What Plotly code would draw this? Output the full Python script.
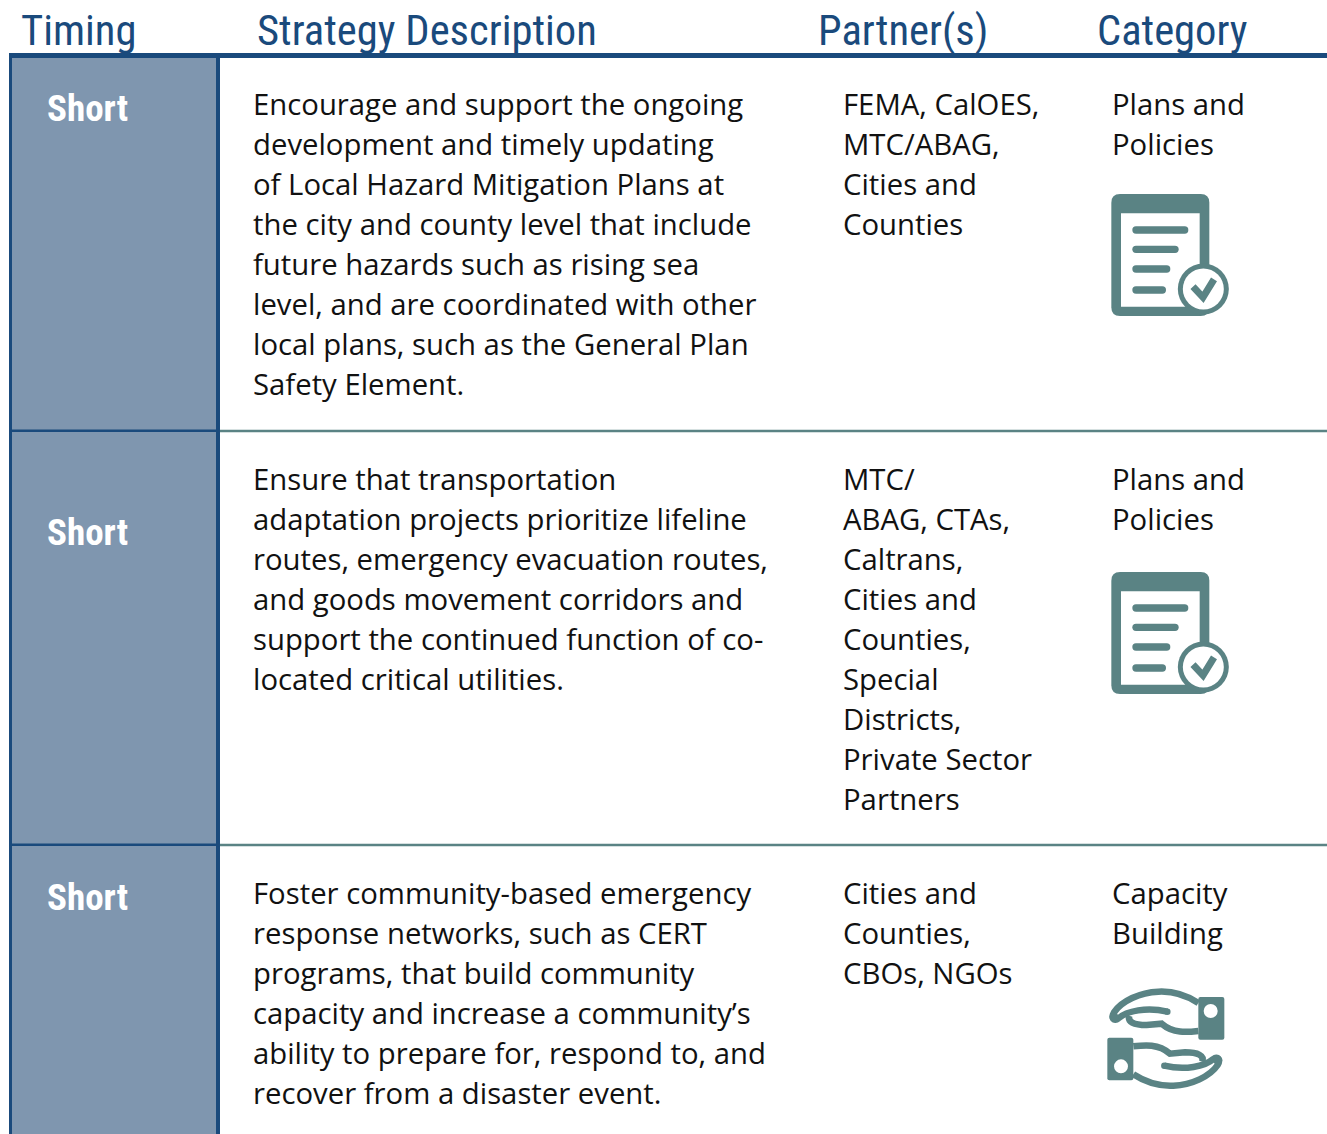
import re
import plotly.graph_objects as go

headers = ["Timing", "Strategy Description", "Partner(s)", "Category"]
timing = ["Short", "Short", "Short"]
descriptions = [
    ["Encourage and support the ongoing", "development and timely updating", "of Local Hazard Mitigation Plans at",
     "the city and county level that include", "future hazards such as rising sea",
     "level, and are coordinated with other", "local plans, such as the General Plan", "Safety Element."],
    ["Ensure that transportation", "adaptation projects prioritize lifeline", "routes, emergency evacuation routes,",
     "and goods movement corridors and", "support the continued function of co-", "located critical utilities."],
    ["Foster community-based emergency", "response networks, such as CERT", "programs, that build community",
     "capacity and increase a community\u2019s", "ability to prepare for, respond to, and", "recover from a disaster event."],
]
partners = [
    ["FEMA, CalOES,", "MTC/ABAG,", "Cities and", "Counties"],
    ["MTC/", "ABAG, CTAs,", "Caltrans,", "Cities and", "Counties,", "Special", "Districts,", "Private Sector", "Partners"],
    ["Cities and", "Counties,", "CBOs, NGOs"],
]
categories = [["Plans and", "Policies"], ["Plans and", "Policies"], ["Capacity", "Building"]]

W, H = 1327, 1134
NAVY, SLATE, TEAL, INK = "#1A4A7C", "#7F96AF", "#5A8384", "#111111"
BODY = "Open Sans, sans-serif"
COND = "Roboto Condensed, Roboto, sans-serif"
header_x = [20, 256, 817, 1096]
row_tops = [56, 431, 845, H]
first_line = [104, 479, 893]
short_y = [108, 532, 897]
col_x = [252, 842, 1111]
LINE = 40

shapes, annots = [], []


def text(x, y, s, size, color, family=BODY, weight=400):
    annots.append(dict(x=x, y=y, text=s, showarrow=False, xanchor="left", yanchor="middle", borderpad=0,
                       font=dict(size=size, color=color, family=family, weight=weight)))


def rect(x0, y0, x1, y1, color):
    shapes.append(dict(type="rect", x0=x0, y0=y0, x1=x1, y1=y1, fillcolor=color, line_width=0, layer="above"))


def zpath(d, ox, oy, fill=None, width=0, rot=False):
    """Path written in 3x crop units, moved to chart units."""
    nums = iter(re.findall(r"-?\d+\.?\d*|[A-Za-z]", d))
    out = []
    for t in nums:
        if t.isalpha():
            out.append(t)
        else:
            a, b = float(t), float(next(nums))
            if rot:
                a, b = 455 - a, 382 - b
            out.append(f"{ox + a / 3:.2f},{oy + b / 3:.2f}")
    sh = dict(type="path", path=" ".join(out), layer="above", fillcolor=fill or "rgba(0,0,0,0)",
              line=dict(color=TEAL if width else "rgba(0,0,0,0)", width=width))
    shapes.append(sh)


def circle(cx, cy, r, color):
    shapes.append(dict(type="circle", x0=cx - r, x1=cx + r, y0=cy - r, y1=cy + r, fillcolor=color,
                       line_width=0, layer="above"))


def capsule(x0, x1, yy, ox, oy):
    r = 11
    zpath(f"M {x0 + r},{yy - r} L {x1 - r},{yy - r} Q {x1},{yy - r} {x1},{yy} Q {x1},{yy + r} {x1 - r},{yy + r} "
          f"L {x0 + r},{yy + r} Q {x0},{yy + r} {x0},{yy} Q {x0},{yy - r} {x0 + r},{yy - r} Z", ox, oy, fill=TEAL)


def doc_icon(oy):
    ox = 1090
    zpath("M 90,42 L 332,42 Q 358,42 358,68 L 358,382 Q 358,408 332,408 L 90,408 Q 64,408 64,382 L 64,68 Q 64,42 90,42 Z",
          ox, oy, fill=TEAL)
    zpath("M 93,100 L 329,100 L 329,380 L 93,380 Z", ox, oy, fill="white")
    for end, yy in [(295, 150), (266, 208), (241, 267), (228, 330)]:
        capsule(127, end, yy, ox, oy)
    circle(ox + 340 / 3, oy + 327 / 3, 25.5, TEAL)
    circle(ox + 340 / 3, oy + 327 / 3, 20.5, "white")
    zpath("M 309,320 L 339,352 L 372,298", ox, oy, width=7)


def hand_icon(ox, oy, rot):
    zpath("M 325,84 C 285,58 245,48 205,50 C 150,52 95,78 72,112 C 62,130 72,140 85,130 C 110,108 170,95 232,110",
          ox, oy, width=6.5, rot=rot)
    zpath("M 118,122 C 112,140 130,150 170,150 L 215,146 C 250,176 290,172 325,168", ox, oy, width=6.5, rot=rot)
    tx, ty = (455 - 232, 382 - 110) if rot else (232, 110)
    circle(ox + tx / 3, oy + ty / 3, 3.25, TEAL)
    tx, ty = (455 - 72, 382 - 126) if rot else (72, 126)
    circle(ox + tx / 3, oy + ty / 3, 4.5, TEAL)
    zpath("M 331,66 L 397,66 Q 403,66 403,72 L 403,188 Q 403,194 397,194 L 331,194 Q 325,194 325,188 L 325,72 Q 325,66 331,66 Z",
          ox, oy, fill=TEAL, rot=rot)
    hx, hy = (93, 274) if rot else (362, 108)
    circle(ox + hx / 3, oy + hy / 3, 7, "white")


# timing column background and rules
rect(10, 56, 217, H, SLATE)
rect(9, 53, W, 58, NAVY)
rect(9, 56, 12, H, NAVY)
rect(216, 56, 220, H, NAVY)
for y in row_tops[1:3]:
    rect(9, y - 1.5, 220, y + 1, NAVY)
    rect(220, y - 1.2, W, y + 1.2, TEAL)

for x, s in zip(header_x, headers):
    text(x, 30, s, 42.6, NAVY, COND)

for i in range(3):
    text(45.5, short_y[i], timing[i], 37, "white", COND, 700)
    for x, col in zip(col_x, (descriptions, partners, categories)):
        for j, s in enumerate(col[i]):
            text(x, first_line[i] + j * LINE, s, 29.3, INK)

doc_icon(180)
doc_icon(558)
hand_icon(1090, 975, False)
hand_icon(1090, 975, True)

fig = go.Figure()
fig.update_layout(
    width=W, height=H, margin=dict(l=0, r=0, t=0, b=0), paper_bgcolor="white", plot_bgcolor="white",
    xaxis=dict(range=[0, W], visible=False, fixedrange=True),
    yaxis=dict(range=[H, 0], visible=False, fixedrange=True),
    shapes=shapes, annotations=annots, showlegend=False,
)
fig.write_html("out.html", config=dict(displayModeBar=False),
               default_width=f"{W}px", default_height=f"{H}px",
               post_script="document.body.style.margin='0';")
